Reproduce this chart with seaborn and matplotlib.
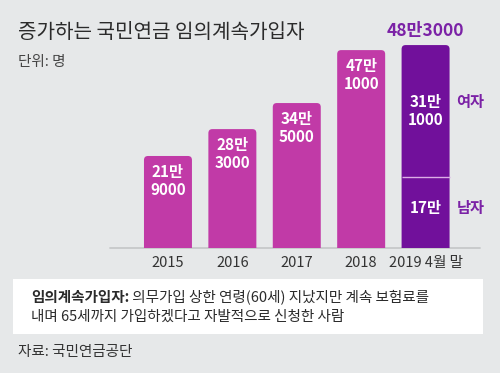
import matplotlib
matplotlib.use("Agg")
import matplotlib.pyplot as plt
import seaborn as sns
import pandas as pd
from matplotlib.patches import FancyBboxPatch, Rectangle
from matplotlib.text import Annotation

# data
years = ["2015", "2016", "2017", "2018", "2019 4월 말"]
members = [219000, 283000, 345000, 471000, 483000]
male_2019 = 170000
female_2019 = 311000
total_label = "48만3000"

BG = "#e6e8e9"
MAGENTA = "#c13aa7"
PURPLE = "#71109b"
TEXT_PURPLE = "#7b22a6"
DARK = "#2b2b2b"

sns.set_style("white")
plt.rcParams["font.family"] = ["Noto Sans CJK KR", "DejaVu Sans"]


def man(v):
    head, tail = divmod(v, 10000)
    return f"{head}만\n{tail}" if tail else f"{head}만"


df = pd.DataFrame({"year": years, "members": members})

fig = plt.figure(figsize=(5, 3.73), dpi=100, facecolor=BG)
ax = fig.add_axes([0.22, 0.3351, 0.74, 0.5576])
ax.set_facecolor(BG)
sns.barplot(data=df, x="year", y="members", hue="year",
            palette=[MAGENTA] * 4 + [PURPLE], legend=False,
            width=0.745, saturation=1, ax=ax)
ax.set_xlim(-0.90, 4.845)
ax.set_ylim(0, 495000)

# round the bar tops (bottom corners pushed below the axis and clipped)
(x0, y0), (x1, y1) = ax.transData.transform([(0, 0), (1, 100000)])
px_x = x1 - x0
px_y = (y1 - y0) / 100000
r = 4 / px_x
ext = 6 / px_y
bars = list(ax.patches)
for p in bars:
    x, y, w, h = p.get_x(), p.get_y(), p.get_width(), p.get_height()
    p.set_visible(False)
    ax.add_patch(FancyBboxPatch((x, y - ext), w, h + ext,
                                boxstyle=f"round,pad=0,rounding_size={r}",
                                mutation_aspect=px_x / px_y,
                                fc=p.get_facecolor(), ec="none"))

ax.axhline(0, color="#c6c8c9", lw=1.3, clip_on=False, zorder=0)

# labels inside the yearly bars
for p, v in zip(bars[:4], members[:4]):
    cx = p.get_x() + p.get_width() / 2
    ax.annotate(man(v), (cx, v), xytext=(0, -6), textcoords="offset points",
                ha="center", va="top", color="white", fontsize=11,
                fontweight="bold", linespacing=1.15)

# 2019 stacked split
last = bars[4]
lx, lw = last.get_x(), last.get_width()
cx = lx + lw / 2
ax.hlines(male_2019, lx, lx + lw, color="#dcaee6", lw=1)
fem_mid = male_2019 + (members[4] - male_2019) / 2
ax.text(cx, fem_mid, man(female_2019), ha="center", va="center",
        color="white", fontsize=11, fontweight="bold", linespacing=1.15)
ax.text(cx, male_2019 / 2 + 10000, man(male_2019), ha="center", va="center",
        color="white", fontsize=11, fontweight="bold")
ax.annotate("여자", (lx + lw, fem_mid + 20000), xytext=(5, 0),
            textcoords="offset points", ha="left", va="center",
            color=TEXT_PURPLE, fontsize=11, fontweight="bold",
            annotation_clip=False)
ax.annotate("남자", (lx + lw, male_2019 / 2 + 10000), xytext=(5, 0),
            textcoords="offset points", ha="left", va="center",
            color=TEXT_PURPLE, fontsize=11, fontweight="bold",
            annotation_clip=False)
ax.annotate(total_label, (cx, members[4]), xytext=(0, 4),
            textcoords="offset points", ha="center", va="bottom",
            color=TEXT_PURPLE, fontsize=12.5, fontweight="bold",
            annotation_clip=False)

ax.set_xlabel("")
ax.set_ylabel("")
ax.set_yticks([])
ax.tick_params(axis="x", length=0, pad=6, labelsize=10.5, labelcolor="#333333")
sns.despine(ax=ax, left=True, bottom=True)

# titles
fig.text(18 / 500, 1 - 32 / 373, "증가하는 국민연금 임의계속가입자",
         fontsize=14.5, color=DARK, va="center", ha="left")
fig.text(18 / 500, 1 - 62 / 373, "단위: 명", fontsize=10.5, color="#444444",
         va="center", ha="left")

# note box
fig.add_artist(Rectangle((13 / 500, 1 - 334 / 373), 470 / 500, 55 / 373,
                         transform=fig.transFigure, fc="white", ec="none",
                         zorder=1))
bold = fig.text(31 / 500, 1 - 297 / 373, "임의계속가입자:", fontsize=10.5,
                fontweight="bold", color=DARK, va="center", ha="left",
                zorder=2)
fig.add_artist(Annotation(" 의무가입 상한 연령(60세) 지났지만 계속 보험료를",
                          xy=(1, 0.5), xycoords=bold, ha="left", va="center",
                          fontsize=10.5, color=DARK, zorder=2))
fig.text(31 / 500, 1 - 317 / 373, "내며 65세까지 가입하겠다고 자발적으로 신청한 사람",
         fontsize=10.5, color=DARK, va="center", ha="left", zorder=2)

fig.text(18 / 500, 1 - 352 / 373, "자료: 국민연금공단", fontsize=10.5,
         color="#333333", va="center", ha="left")

fig.savefig("out.png", dpi=100, facecolor=BG)
